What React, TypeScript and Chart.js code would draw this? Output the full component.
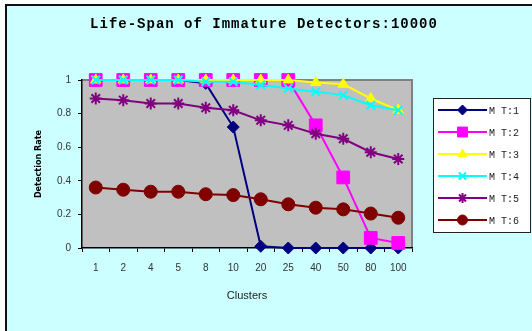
import React, { useEffect, useRef } from "react";
import { Chart, registerables } from "chart.js";
import { drawPoint } from "chart.js/helpers";

Chart.register(...registerables);

const TITLE = "Life-Span of Immature Detectors:10000";
const X_TITLE = "Clusters";
const Y_TITLE = "Detection Rate";
const categories = ["1", "2", "4", "5", "8", "10", "20", "25", "40", "50", "80", "100"];
const seriesNames = ["M T:1", "M T:2", "M T:3", "M T:4", "M T:5", "M T:6"];
const mt1 = [1, 1, 1, 1, 0.98, 0.72, 0.01, 0, 0, 0, 0, 0];
const mt2 = [1, 1, 1, 1, 1, 1, 1, 1, 0.73, 0.42, 0.06, 0.03];
const mt3 = [1, 1, 1, 1, 1, 1, 1, 1, 0.985, 0.975, 0.89, 0.82];
const mt4 = [1, 1, 1, 1, 0.99, 0.99, 0.97, 0.95, 0.93, 0.91, 0.85, 0.82];
const mt5 = [0.89, 0.88, 0.86, 0.86, 0.835, 0.82, 0.76, 0.73, 0.68, 0.65, 0.57, 0.53];
const mt6 = [0.36, 0.347, 0.335, 0.335, 0.32, 0.315, 0.29, 0.26, 0.24, 0.23, 0.205, 0.18];
const yTicks = [0, 0.2, 0.4, 0.6, 0.8, 1];

const seriesData = [mt1, mt2, mt3, mt4, mt5, mt6];
const colors = ["#000080", "#FF00FF", "#FFFF00", "#00FFFF", "#800080", "#800000"];
const styles = ["rectRot", "rect", "triangle", "crossRot", "star", "circle"];
const radii = [6, 9, 6, 6, 6, 6.5];
const pBorder = [1, 1, 1, 2, 2, 1];

const bgPlugin = {
  id: "bgPlugin",
  beforeDraw(chart: any) {
    const { ctx, chartArea: a } = chart;
    ctx.save();
    ctx.fillStyle = "#C0C0C0";
    ctx.fillRect(a.left, a.top, a.right - a.left, a.bottom - a.top);
    ctx.strokeStyle = "#808080";
    ctx.lineWidth = 2;
    ctx.beginPath();
    ctx.moveTo(a.left, a.top);
    ctx.lineTo(a.right, a.top);
    ctx.lineTo(a.right, a.bottom);
    ctx.stroke();
    ctx.restore();
  },
  afterDraw(chart: any) {
    const { ctx } = chart;
    ctx.save();
    // title
    ctx.font = "bold 14px 'Liberation Mono', monospace";
    (ctx as any).letterSpacing = "1px";
    ctx.fillStyle = "#000";
    ctx.textAlign = "center";
    ctx.textBaseline = "middle";
    ctx.fillText(TITLE, 257, 18);
    // legend
    const lx = 426, ly = 92, lw = 97, lh = 134;
    ctx.fillStyle = "#FFFFFF";
    ctx.fillRect(lx, ly, lw, lh);
    ctx.strokeStyle = "#222";
    ctx.lineWidth = 1;
    ctx.strokeRect(lx + 0.5, ly + 0.5, lw, lh);
    (ctx as any).letterSpacing = "0px";
    ctx.font = "10px 'Liberation Mono', monospace";
    ctx.textAlign = "left";
    for (let i = 0; i < seriesNames.length; i++) {
      const y = 104 + i * 22;
      ctx.strokeStyle = colors[i];
      ctx.lineWidth = 2;
      ctx.beginPath();
      ctx.moveTo(431, y);
      ctx.lineTo(480, y);
      ctx.stroke();
      ctx.fillStyle = colors[i];
      ctx.strokeStyle = colors[i];
      ctx.lineWidth = pBorder[i];
      drawPoint(ctx, { pointStyle: styles[i] as any, radius: i === 1 ? 7 : 5, rotation: 0, borderWidth: pBorder[i] }, 455.5, y);
      ctx.fillStyle = "#222";
      ctx.fillText(seriesNames[i], 482, y + 1);
    }
    ctx.restore();
  },
};

export default function App() {
  const ref = useRef<HTMLCanvasElement>(null);
  useEffect(() => {
    document.body.style.margin = "0";
    const chart = new Chart(ref.current as HTMLCanvasElement, {
      type: "line",
      data: {
        labels: categories,
        datasets: seriesData.map((d, i) => ({
          label: seriesNames[i],
          data: d,
          borderColor: colors[i],
          backgroundColor: colors[i],
          borderWidth: 2,
          pointStyle: styles[i] as any,
          pointRadius: radii[i],
          pointBorderWidth: pBorder[i],
          pointBackgroundColor: colors[i],
          pointBorderColor: colors[i],
          tension: 0,
          clip: false as any,
          order: 6 - i,
        })),
      },
      options: {
        responsive: false,
        animation: false,
        events: [],
        layout: { padding: { top: 74, right: 120, bottom: 0, left: 0 } },
        plugins: { legend: { display: false }, title: { display: false }, tooltip: { enabled: false } },
        scales: {
          x: {
            type: "category",
            offset: true,
            afterFit: (s: any) => { s.height = 83; },
            grid: { offset: true, drawOnChartArea: false, drawTicks: true, tickLength: 4, color: "#000", lineWidth: 1 },
            border: { display: true, color: "#000", width: 1.5 },
            ticks: { color: "#333", font: { family: "'Liberation Sans', Arial", size: 10 }, padding: 10, autoSkip: false, maxRotation: 0 },
            title: { display: true, text: X_TITLE, color: "#222", font: { family: "'Liberation Sans', Arial", size: 11 }, padding: { top: 0, bottom: 28 } },
          },
          y: {
            min: 0,
            max: 1,
            afterFit: (s: any) => { s.width = 75; },
            afterBuildTicks: (s: any) => { s.ticks = yTicks.map((v) => ({ value: v })); },
            grid: { drawOnChartArea: false, drawTicks: true, tickLength: 4, color: "#000", lineWidth: 1 },
            border: { display: true, color: "#000", width: 1.5 },
            ticks: {
              color: "#333",
              font: { family: "'Liberation Sans', Arial", size: 10 },
              padding: 7,
              callback: (v: any) => String(Math.round(Number(v) * 10) / 10),
            },
            title: { display: true, text: Y_TITLE, color: "#000", font: { family: "'DejaVu Sans Condensed', 'Liberation Sans', Arial", size: 9, weight: "bold" }, padding: { top: 26, bottom: 0 } },
          },
        },
      },
      plugins: [bgPlugin],
    });
    return () => chart.destroy();
  }, []);
  return (
    <div
      style={{
        position: "absolute",
        left: 5,
        top: 4,
        width: 525,
        height: 325,
        borderLeft: "2px solid #111",
        borderTop: "2px solid #111",
        background: "#CCFFFF",
      }}
    >
      <canvas ref={ref} width={525} height={325} style={{ display: "block" }} />
    </div>
  );
}
